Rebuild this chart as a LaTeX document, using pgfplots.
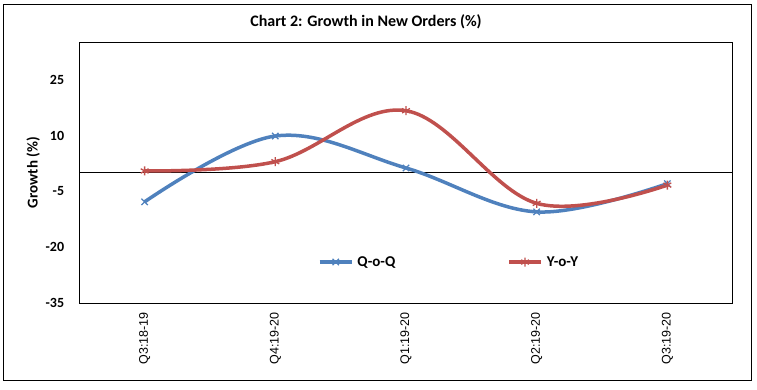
\documentclass[border=0pt]{standalone}
\usepackage{pgfplots}
\pgfplotsset{compat=1.18}
\usepackage{fontspec}
\setmainfont{Carlito}
\newfontfamily\arialf{Liberation Sans}
\definecolor{qblue}{HTML}{4F81BD}
\definecolor{yred}{HTML}{C0504D}
\begin{document}
\begin{tikzpicture}[x=1pt,y=1pt]
\path[use as bounding box] (0,0) rectangle (757,389);
\draw[black, line width=1pt] (3,9) rectangle (751,384);
\node[font=\fontsize{16}{18}\selectfont\bfseries] at (366,367) {Chart 2: Growth in New Orders (\%)};
\begin{axis}[
  at={(79.3pt,86pt)}, anchor=south west,
  scale only axis, width=653.4pt, height=260.7pt,
  xmin=-0.5, xmax=4.5, ymin=-35, ymax=35.1,
  xtick={0,1,2,3,4},
  xticklabels={Q3:18-19,Q4:19-20,Q1:19-20,Q2:19-20,Q3:19-20},
  ytick={-35,-20,-5,10,25},
  major tick length=0pt,
  axis line style={black, line width=0.9pt},
  xticklabel shift=9pt,
  xticklabel style={rotate=90, anchor=east, inner sep=0pt, font=\arialf\fontsize{12.5}{14}\selectfont},
  yticklabel style={inner sep=0pt, xshift=-15pt, font=\fontsize{14}{16}\selectfont\bfseries},
  /pgf/number format/assume math mode=true,
  ylabel={Growth (\%)},
  every axis y label/.style={at={(axis description cs:0,0.5)}, xshift=-46pt, rotate=90, anchor=center, font=\fontsize{15}{17}\selectfont\bfseries},
  extra y ticks={0}, extra y tick labels={},
  extra y tick style={grid=major, major grid style={black, line width=0.9pt}},
  legend columns=2,
  legend style={at={(axis description cs:0.365,0.157)}, anchor=west, draw=none, fill=none,
    font=\fontsize{15}{17}\selectfont\bfseries, inner sep=0pt,
    /tikz/every even column/.append style={column sep=110pt},
    /tikz/every odd column/.append style={column sep=2pt}},
  legend image code/.code={\draw[#1, mark repeat=2, mark phase=2] plot coordinates {(0pt,0pt) (16pt,0pt) (32pt,0pt)};},
]
\addplot[qblue, line width=3.5pt, smooth, tension=0.6, mark=x, mark size=4.5pt, mark options={line width=1.3pt, solid}]
  coordinates {(0,-7.8) (1,9.9) (2,1.3) (3,-10.5) (4,-2.9)};
\addlegendentry{Q-o-Q}
\addplot[yred, line width=3.5pt, smooth, tension=0.6, mark=asterisk, mark size=4.5pt, mark options={line width=1.3pt, solid}]
  coordinates {(0,0.5) (1,3.0) (2,16.7) (3,-8.2) (4,-3.3)};
\addlegendentry{Y-o-Y}
\end{axis}
\end{tikzpicture}
\end{document}
